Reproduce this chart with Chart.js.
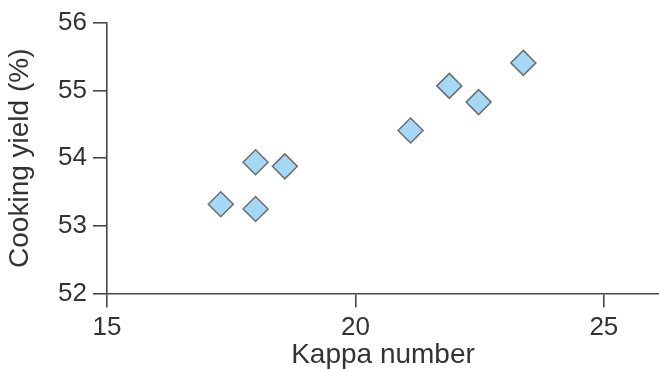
<!DOCTYPE html>
<html>
<head>
<meta charset="utf-8">
<script src="https://cdn.jsdelivr.net/npm/chart.js@4/dist/chart.umd.min.js"></script>
<style>
html,body{margin:0;padding:0;background:#fff;overflow:hidden;}
canvas{display:block;}
</style>
</head>
<body>
<canvas id="c" width="659" height="369" style="width:659px;height:369px;"></canvas>
<script>
const kappaNumber = [17.29, 17.99, 17.99, 18.58, 21.11, 21.89, 22.48, 23.38];
const cookingYield = [53.32, 53.94, 53.25, 53.88, 54.41, 55.07, 54.83, 55.41];
const xTickValues = [15, 20, 25];
const yTickValues = [52, 53, 54, 55, 56];
const xTitle = 'Kappa number';
const yTitle = 'Cooking yield (%)';

const points = kappaNumber.map((x, i) => ({x: x, y: cookingYield[i]}));
const axisColor = '#484848';
const textColor = '#333333';
const tickFont = {family: '"Liberation Sans", Arial, sans-serif', size: 26, lineHeight: 1};
const titleFont = {family: '"Liberation Sans", Arial, sans-serif', size: 28, lineHeight: 1};

new Chart(document.getElementById('c'), {
  type: 'scatter',
  data: {
    datasets: [{
      data: points,
      pointStyle: 'rectRot',
      pointRadius: 12.5,
      pointHoverRadius: 12.5,
      backgroundColor: '#a5d7f6',
      borderColor: '#6e6e6e',
      borderWidth: 1.5
    }]
  },
  options: {
    responsive: false,
    devicePixelRatio: 1,
    animation: false,
    layout: {autoPadding: false, padding: {left: 0, right: 0, top: 23, bottom: 0}},
    plugins: {legend: {display: false}, tooltip: {enabled: false}},
    scales: {
      x: {
        type: 'linear',
        min: 15, max: 26.11,
        afterBuildTicks: (s) => { s.ticks = xTickValues.map(v => ({value: v})); },
        afterFit: (s) => { s.height = 75.5; s.paddingLeft = 0; s.paddingRight = 0; },
        ticks: {color: textColor, font: tickFont, padding: 7, maxRotation: 0},
        grid: {drawOnChartArea: false, drawTicks: true, tickLength: 14, color: axisColor, lineWidth: 1.6},
        border: {display: true, color: axisColor, width: 1.6},
        title: {display: true, text: xTitle, color: textColor, font: titleFont, padding: {top: 0, bottom: 0}}
      },
      y: {
        type: 'linear',
        min: 52, max: 56,
        afterBuildTicks: (s) => { s.ticks = yTickValues.map(v => ({value: v})); },
        afterFit: (s) => { s.width = 107; s.paddingTop = 0; s.paddingBottom = 0; },
        ticks: {color: textColor, font: tickFont, padding: 6},
        grid: {drawOnChartArea: false, drawTicks: true, tickLength: 14, color: axisColor, lineWidth: 1.6},
        border: {display: true, color: axisColor, width: 1.6},
        title: {display: true, text: yTitle, color: textColor, font: titleFont, padding: {top: 6, bottom: 0}}
      }
    }
  }
});
</script>
</body>
</html>
